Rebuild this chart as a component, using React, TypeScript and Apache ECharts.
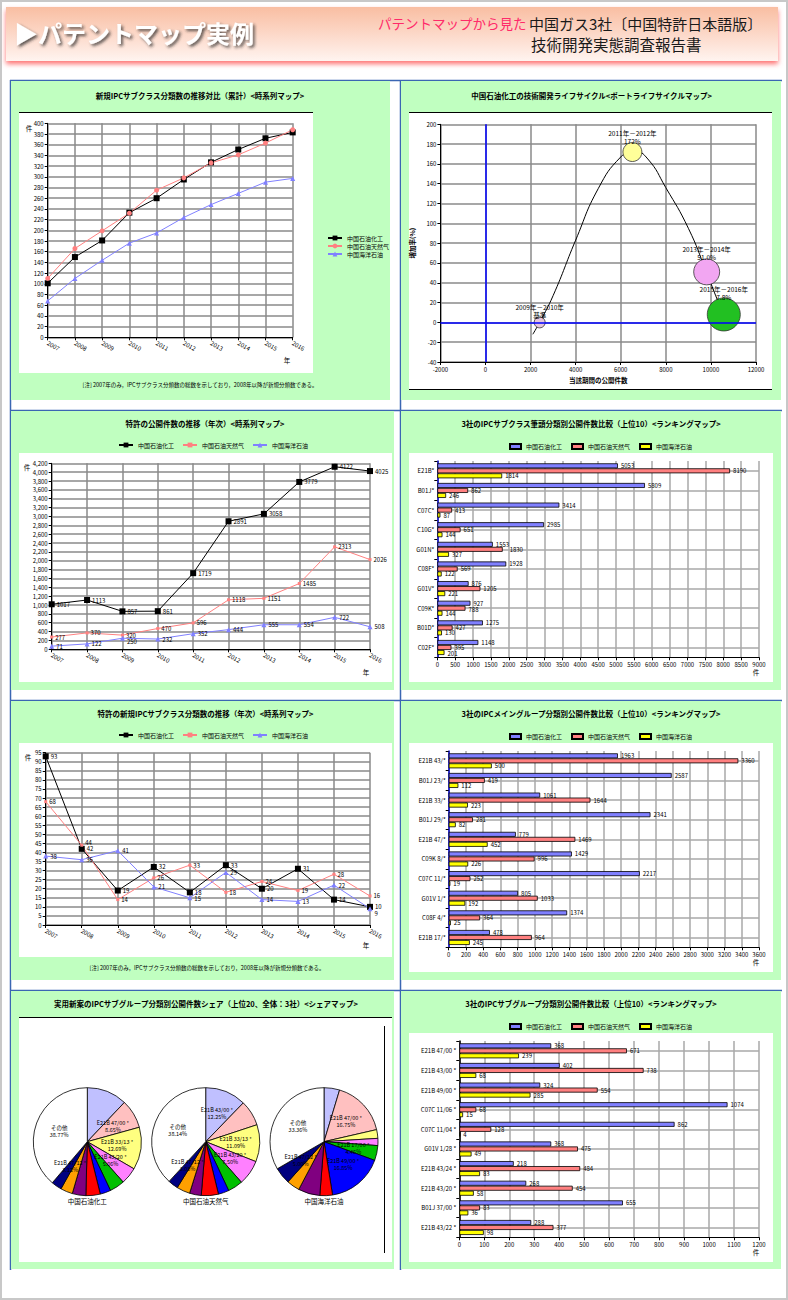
import React, { useEffect, useRef } from 'react';
import * as echarts from 'echarts';

const FONT = "'Noto Sans CJK JP', 'Noto Sans', sans-serif";
const GREEN = '#c0ffc0';
const BLUE_RULE = '#3b66b3';
const GRID_GREY = '#8a8a8a';
const BAR_GRID = '#a8a8a8';
const C_BLACK = '#000000';
const C_PINK = '#ff8080';
const C_BLUE = '#8080ff';
const C_YELLOW = '#ffff00';

// ---------- header texts ----------
const HEADER_TITLE = '▶パテントマップ実例';
const HEADER_PINK = 'パテントマップから見た';
const HEADER_LINE1 = '中国ガス3社〔中国特許日本語版〕';
const HEADER_LINE2 = '技術開発実態調査報告書';

// ---------- common ----------
const COMPANIES = ['中国石油化工', '中国石油天然气', '中国海洋石油'];
const YEARS = ['2007', '2008', '2009', '2010', '2011', '2012', '2013', '2014', '2015', '2016'];
const PANEL_TITLES = [
  '新規IPCサブクラス分類数の推移対比（累計）<時系列マップ>',
  '中国石油化工の技術開発ライフサイクル<ポートライフサイクルマップ>',
  '特許の公開件数の推移（年次）<時系列マップ>',
  '3社のIPCサブクラス筆頭分類別公開件数比較（上位10）<ランキングマップ>',
  '特許の新規IPCサブクラス分類数の推移（年次）<時系列マップ>',
  '3社のIPCメイングループ分類別公開件数比較（上位10）<ランキングマップ>',
  '実用新案のIPCサブグループ分類別公開件数シェア（上位20、全体：3社）<シェアマップ>',
  '3社のIPCサブグループ分類別公開件数比較（上位10）<ランキングマップ>',
];
const NOTE = '[注] 2007年のみ，IPCサブクラス分類数の総数を示しており，2008年以降が新規分類数である。';
const UNIT_COUNT = '件';
const UNIT_YEAR = '年';

// ---------- panel 1: cumulative new subclasses ----------
const cumSinopec = [101, 150, 181, 233, 260, 295, 327, 351, 372, 383];
const cumCnpc = [110, 166, 199, 232, 275, 298, 326, 341, 363, 388];
const cumCnooc = [68, 110, 144, 176, 195, 224, 248, 269, 290, 297];

// ---------- panel 2: life cycle ----------
const lifecyclePeriods = ['2009年－2010年', '2011年－2012年', '2013年－2014年', '2015年－2016年'];
const lifecycleCount = [2404, 6517, 9812, 10571];
const lifecycleGrowth = [0, 172, 51, 8];
const lifecycleRateLabels = ['基準', '172%', '51.0%', '7.8%'];
const lifecycleCurveX = [2100, 2400, 3000, 4000, 5000, 6000, 6600, 7200, 8000, 9000, 9800, 10300, 10570];
const lifecycleCurveY = [-12, 0, 27, 83, 135, 167, 173, 165, 136, 95, 51, 22, 8];
const LIFECYCLE_AXIS_X = '当該期間の公開件数';
const LIFECYCLE_AXIS_Y = '増加率(%)';

// ---------- panel 3: annual publications ----------
const pubSinopec = [1017, 1113, 857, 861, 1719, 2891, 3058, 3779, 4122, 4025];
const pubCnpc = [277, 370, 320, 470, 596, 1118, 1151, 1485, 2313, 2026];
const pubCnooc = [71, 122, 250, 232, 352, 444, 555, 554, 722, 508];

// ---------- panel 4: subclass ranking ----------
const subclassCats = ['E21B*', 'B01J*', 'C07C*', 'C10G*', 'G01N*', 'C08F*', 'G01V*', 'C09K*', 'B01D*', 'C02F*'];
const subclassSinopec = [5053, 5809, 3414, 2985, 1553, 1928, 876, 927, 1275, 1148];
const subclassCnpc = [8190, 862, 413, 651, 1830, 569, 1205, 788, 427, 395];
const subclassCnooc = [1814, 246, 87, 144, 327, 122, 221, 144, 130, 201];

// ---------- panel 5: annual new subclasses ----------
const newSinopec = [93, 42, 19, 32, 18, 33, 20, 31, 14, 10];
const newCnpc = [68, 44, 14, 26, 33, 18, 24, 19, 28, 16];
const newCnooc = [38, 36, 41, 21, 15, 29, 14, 13, 22, 9];

// ---------- panel 6: main group ranking ----------
const groupCats = ['E21B 43/*', 'B01J 23/*', 'E21B 33/*', 'B01J 29/*', 'E21B 47/*', 'C09K 8/*', 'C07C 11/*', 'G01V 1/*', 'C08F 4/*', 'E21B 17/*'];
const groupSinopec = [1963, 2587, 1061, 2341, 779, 1429, 2217, 805, 1374, 478];
const groupCnpc = [3360, 419, 1644, 281, 1469, 996, 252, 1033, 364, 964];
const groupCnooc = [500, 112, 223, 82, 452, 226, 19, 192, 25, 245];

// ---------- panel 7: utility-model share pies ----------
const pieNames = ['E21B 43/00 *', 'E21B 47/00 *', 'E21B 33/13 *', 'E21B 43/20 *', 'E21B 17/00 *', 'E21B 49/00 *', 'E21B 43/24 *', 'E21B 43/22 *', 'C09K 8/60 *', 'E21B 47/12 *', 'その他'];
const pieSinopec = [12.04, 8.65, 12.69, 5.06, 4.5, 3.2, 4.29, 4.06, 3.62, 3.12, 38.77];
const pieCnpc = [12.25, 7.67, 11.09, 7.5, 4.5, 3.2, 5.12, 3.5, 4.0, 3.03, 38.14];
const pieCnooc = [4.66, 16.75, 2.6, 2.15, 4.46, 16.85, 3.78, 6.5, 3.9, 5.0, 33.36];
const PIE_COLORS = ['#c0c0ff', '#ffc0c0', '#ffff80', '#ff80ff', '#00c000', '#0000ff', '#ff0000', '#800080', '#ffa000', '#000080', '#ffffff'];

// ---------- panel 8: subgroup ranking ----------
const subgroupCats = ['E21B 47/00 *', 'E21B 43/00 *', 'E21B 49/00 *', 'C07C 11/06 *', 'C07C 11/04 *', 'G01V 1/28 *', 'E21B 43/24 *', 'E21B 43/20 *', 'B01J 37/00 *', 'E21B 43/22 *'];
const subgroupSinopec = [368, 402, 324, 1074, 862, 368, 218, 268, 655, 288];
const subgroupCnpc = [671, 738, 554, 68, 128, 475, 484, 454, 83, 377];
const subgroupCnooc = [239, 68, 285, 15, 4, 49, 83, 58, 36, 98];

// ---------- helpers ----------
const T = (x: number, y: number, text: string, size = 6.5, extra: any = {}) => ({
  type: 'text', x, y, silent: true, z: 10,
  style: { text, fontSize: size, fontFamily: FONT, fill: '#000', align: 'center', verticalAlign: 'middle', ...extra },
});
const TITLE = (x: number, y: number, i: number) => T(x, y, PANEL_TITLES[i], 7.5, { fontWeight: 'bold' });

const box = (x: number, y: number, w: number, h: number, top = false, bottom = false) => {
  const els: any[] = [{ type: 'rect', shape: { x, y, width: w, height: h }, style: { fill: '#ffffff' }, z: -100, silent: true }];
  if (top) els.push({ type: 'line', shape: { x1: x, y1: y + 0.5, x2: x + w, y2: y + 0.5 }, style: { stroke: '#000', lineWidth: 1 }, z: -99, silent: true });
  if (bottom) els.push({ type: 'line', shape: { x1: x, y1: y + h - 0.5, x2: x + w, y2: y + h - 0.5 }, style: { stroke: '#000', lineWidth: 1 }, z: -99, silent: true });
  return els;
};

const plain = (v: number) => String(v);
const thousands = (v: number) => v.toLocaleString('en-US');

// Nudges a data label (right when the clash is slight, otherwise up/down)
// when it collides with a label already placed in the same chart.
const makeAvoider = () => {
  const placed = new Map<string, { x: number; y: number; width: number; height: number }>();
  return (params: any) => {
    const key = params.seriesIndex + '-' + params.dataIndex;
    const r = params.labelRect;
    if (!r) return {};
    let dx = 0;
    let dy = 0;
    for (let iter = 0; iter < 6; iter++) {
      let moved = false;
      placed.forEach((p, k) => {
        if (k === key || moved) return;
        const rx = r.x + dx;
        const ry = r.y + dy;
        if (rx < p.x + p.width && rx + r.width > p.x && ry < p.y + p.height && ry + r.height > p.y) {
          const overlapX = Math.min(rx + r.width, p.x + p.width) - Math.max(rx, p.x);
          if (rx >= p.x && overlapX <= 6) {
            dx += overlapX + 0.5;
          } else {
            const up = p.y - (ry + r.height);
            const down = p.y + p.height - ry;
            dy += Math.abs(up) < down ? up - 0.5 : down + 0.5;
          }
          moved = true;
        }
      });
      if (!moved) break;
    }
    placed.set(key, { x: r.x + dx, y: r.y + dy, width: r.width, height: r.height });
    return { dx, dy };
  };
};

const yearAxis = () => ({
  type: 'category', data: YEARS, boundaryGap: false,
  axisLine: { lineStyle: { color: '#000', width: 1 } },
  axisTick: { show: true, length: 3, lineStyle: { color: '#000' } },
  axisLabel: { interval: 0, rotate: -30, fontSize: 6, color: '#000', margin: 5, fontFamily: FONT },
  splitLine: { show: true, lineStyle: { color: GRID_GREY, width: 1.5 } },
});

const valueAxis = (min: number, max: number, interval: number, fmt: any = plain) => ({
  type: 'value', min, max, interval,
  axisLine: { show: true, onZero: false, lineStyle: { color: '#000', width: 1 } },
  axisTick: { show: true, length: 3, lineStyle: { color: '#000' } },
  axisLabel: { fontSize: 6, color: '#000', margin: 4, fontFamily: FONT, formatter: fmt },
  splitLine: { show: true, lineStyle: { color: GRID_GREY, width: 1.5 } },
});

const lineS = (name: string, data: number[], color: string, symbol: string, size: number, avoider: any) => {
  const s: any = {
    type: 'line', name, data, symbol, symbolSize: size, showSymbol: true,
    itemStyle: { color }, lineStyle: { color, width: 1 },
    label: { show: !!avoider, position: 'right', distance: 2, fontSize: 6, color: '#000', fontFamily: FONT },
    emphasis: { disabled: true },
  };
  if (avoider) s.labelLayout = avoider;
  return s;
};

const barS = (name: string, data: number[], color: string, avoider: any) => ({
  type: 'bar', name, data, barWidth: 5, barGap: '0%',
  itemStyle: { color, borderColor: '#000', borderWidth: 0.8 },
  label: { show: true, position: 'right', distance: 3, fontSize: 6, color: '#000', fontFamily: FONT },
  labelLayout: avoider,
  emphasis: { disabled: true },
});

const rankingOption = (titleIdx: number, cats: string[], a: number[], b: number[], c: number[], max: number, interval: number, gridLeft: number, axisColor: string) => {
  const av = makeAvoider();
  return {
    animation: false,
    textStyle: { fontFamily: FONT },
    graphic: [...box(8, 42, 364, 229), TITLE(190, 12, titleIdx), T(355, 261, UNIT_COUNT, 6.5)],
    legend: { left: 103, top: 27, itemWidth: 11, itemHeight: 5, itemGap: 9, icon: 'rect', textStyle: { fontSize: 6, color: '#000', fontFamily: FONT }, data: COMPANIES },
    grid: { left: gridLeft, top: 50, width: 358 - gridLeft, height: 196.3 },
    xAxis: {
      type: 'value', min: 0, max, interval,
      axisLine: { show: true, lineStyle: { color: '#000' } },
      axisTick: { show: true, length: 3, lineStyle: { color: '#000' } },
      axisLabel: { fontSize: 6, color: '#000', margin: 4, fontFamily: FONT, formatter: plain },
      splitLine: { show: true, lineStyle: { color: BAR_GRID, width: 1.5 } },
    },
    yAxis: {
      type: 'category', data: cats, inverse: true,
      axisLine: { show: true, lineStyle: { color: axisColor, width: 1.5 } },
      axisTick: { show: true, length: 3, lineStyle: { color: '#000' } },
      axisLabel: { fontSize: 6, color: '#000', margin: 3, interval: 0, fontFamily: FONT },
      splitLine: { show: true, alignWithLabel: true, lineStyle: { color: BAR_GRID, width: 1.5 } },
    },
    series: [barS(COMPANIES[0], a, C_BLUE, av), barS(COMPANIES[1], b, C_PINK, av), barS(COMPANIES[2], c, C_YELLOW, av)],
  };
};

const BUBBLE_COLORS = ['#e6c6dc', '#ffff99', '#f2a6f2', '#22c022'];
const BUBBLE_SIZES = [11, 19, 26, 33];

const pieSeries = (values: number[], cx: number) => ({
  type: 'pie', center: [cx, 150.7], radius: 54, startAngle: 90, clockwise: true,
  avoidLabelOverlap: false, silent: true,
  data: pieNames.map((n, i) => ({ name: n, value: values[i], itemStyle: { color: PIE_COLORS[i] } })),
  itemStyle: { borderColor: '#000', borderWidth: 0.8 },
  label: {
    show: true, position: 'inside', fontSize: 5.5, lineHeight: 7, color: '#000', fontFamily: FONT,
    formatter: (p: any) => `${p.name}\n${Number(p.value).toFixed(2)}%`,
  },
  labelLine: { show: false },
  emphasis: { disabled: true },
});

function buildPanels() {
  const p1 = {
    animation: false,
    textStyle: { fontFamily: FONT },
    graphic: [
      ...box(8, 31, 294, 261, true, false),
      TITLE(189, 14, 0),
      T(18, 47, UNIT_COUNT, 6.5),
      T(276, 279, UNIT_YEAR, 6.5),
      T(189, 304, NOTE, 5.5),
    ],
    legend: { orient: 'vertical', left: 311, top: 149, itemWidth: 14, itemHeight: 6, itemGap: 2, textStyle: { fontSize: 6, color: '#000', fontFamily: FONT }, data: COMPANIES },
    grid: { left: 36.7, top: 42.3, width: 245, height: 214 },
    xAxis: yearAxis(),
    yAxis: valueAxis(0, 400, 20),
    series: [
      lineS(COMPANIES[0], cumSinopec, C_BLACK, 'rect', 6, null),
      lineS(COMPANIES[1], cumCnpc, C_PINK, 'circle', 5, null),
      lineS(COMPANIES[2], cumCnooc, C_BLUE, 'triangle', 5, null),
    ],
  };

  const p2 = {
    animation: false,
    textStyle: { fontFamily: FONT },
    graphic: [...box(8, 31, 363, 278, true, true), TITLE(190.5, 14, 1)],
    grid: { left: 35, top: 43.3, width: 320, height: 237.7 },
    xAxis: {
      ...valueAxis(-2000, 12000, 2000),
      name: LIFECYCLE_AXIS_X, nameLocation: 'middle', nameGap: 12,
      nameTextStyle: { fontSize: 6.5, color: '#000', fontWeight: 'bold', fontFamily: FONT },
    },
    yAxis: {
      ...valueAxis(-40, 200, 20),
      name: LIFECYCLE_AXIS_Y, nameLocation: 'middle', nameGap: 14, nameRotate: 90,
      nameTextStyle: { fontSize: 6.5, color: '#000', fontWeight: 'bold', fontFamily: FONT },
    },
    series: [
      {
        type: 'line', smooth: true, symbol: 'none', silent: true,
        data: lifecycleCurveX.map((x, i) => [x, lifecycleCurveY[i]]),
        lineStyle: { color: '#000', width: 1 },
        markLine: {
          silent: true, symbol: 'none', label: { show: false },
          lineStyle: { color: '#0000ff', width: 1.5, type: 'solid' },
          data: [{ xAxis: 0 }, { yAxis: 0 }],
        },
        z: 2,
      },
      {
        type: 'scatter',
        data: lifecycleCount.map((x, i) => [x, lifecycleGrowth[i]]),
        symbolSize: (_v: any, p: any) => BUBBLE_SIZES[p.dataIndex],
        itemStyle: { color: (p: any) => BUBBLE_COLORS[p.dataIndex], borderColor: '#333', borderWidth: 0.8, opacity: 1 },
        label: {
          show: true, position: 'top', distance: -3, fontSize: 6.5, lineHeight: 8, color: '#000', fontFamily: FONT,
          formatter: (p: any) => `${lifecyclePeriods[p.dataIndex]}\n${lifecycleRateLabels[p.dataIndex]}`,
        },
        emphasis: { disabled: true },
        z: 3,
      },
    ],
  };

  const av3 = makeAvoider();
  const p3 = {
    animation: false,
    textStyle: { fontFamily: FONT },
    graphic: [...box(8, 42, 373, 229), TITLE(194, 12, 2), T(16, 56, UNIT_COUNT, 6.5), T(355, 261, UNIT_YEAR, 6.5)],
    legend: { left: 102, top: 26, itemWidth: 14, itemHeight: 6, itemGap: 8, textStyle: { fontSize: 6, color: '#000', fontFamily: FONT }, data: COMPANIES },
    grid: { left: 40.7, top: 52.3, width: 318.3, height: 186 },
    xAxis: yearAxis(),
    yAxis: valueAxis(0, 4200, 200, thousands),
    series: [
      lineS(COMPANIES[0], pubSinopec, C_BLACK, 'rect', 6, av3),
      lineS(COMPANIES[1], pubCnpc, C_PINK, 'rect', 3, av3),
      lineS(COMPANIES[2], pubCnooc, C_BLUE, 'triangle', 5, av3),
    ],
  };

  const p4 = rankingOption(3, subclassCats, subclassSinopec, subclassCnpc, subclassCnooc, 9000, 500, 36.3, '#0000cc');

  const av5 = makeAvoider();
  const p5 = {
    animation: false,
    textStyle: { fontFamily: FONT },
    graphic: [...box(8, 42, 373, 214), TITLE(194.5, 12, 4), T(17, 56, UNIT_COUNT, 6.5), T(355, 244, UNIT_YEAR, 6.5), T(196, 267, NOTE, 5.5)],
    legend: { left: 102, top: 26, itemWidth: 14, itemHeight: 6, itemGap: 8, textStyle: { fontSize: 6, color: '#000', fontFamily: FONT }, data: COMPANIES },
    grid: { left: 34.7, top: 51.7, width: 324.3, height: 172.3 },
    xAxis: yearAxis(),
    yAxis: valueAxis(0, 95, 5),
    series: [
      lineS(COMPANIES[0], newSinopec, C_BLACK, 'rect', 6, av5),
      lineS(COMPANIES[1], newCnpc, C_PINK, 'rect', 3, av5),
      lineS(COMPANIES[2], newCnooc, C_BLUE, 'triangle', 5, av5),
    ],
  };

  const p6 = rankingOption(5, groupCats, groupSinopec, groupCnpc, groupCnooc, 3600, 200, 47.7, '#0000cc');

  const p7 = {
    animation: false,
    textStyle: { fontFamily: FONT },
    graphic: [
      ...box(8, 26, 373, 245, true, false),
      TITLE(195, 12, 6),
      { type: 'line', shape: { x1: 373.5, y1: 35, x2: 373.5, y2: 262 }, style: { stroke: '#000', lineWidth: 1 }, silent: true },
      T(76.3, 209.7, COMPANIES[0], 6.5),
      T(194.7, 209.7, COMPANIES[1], 6.5),
      T(313, 209.7, COMPANIES[2], 6.5),
    ],
    series: [pieSeries(pieSinopec, 76.3), pieSeries(pieCnpc, 194.7), pieSeries(pieCnooc, 313)],
  };

  const p8 = rankingOption(7, subgroupCats, subgroupSinopec, subgroupCnpc, subgroupCnooc, 1200, 100, 58.3, '#000000');

  return [p1, p2, p3, p4, p5, p6, p7, p8];
}

const PANEL_BOXES = [
  { x: 11, y: 81, w: 379, h: 319 },
  { x: 401, y: 81, w: 380, h: 319 },
  { x: 11, y: 411, w: 383, h: 279 },
  { x: 401, y: 411, w: 380, h: 279 },
  { x: 11, y: 701, w: 383, h: 279 },
  { x: 401, y: 701, w: 380, h: 279 },
  { x: 11, y: 991, w: 383, h: 278 },
  { x: 401, y: 991, w: 380, h: 278 },
];

const rule = (x1: number, y1: number, x2: number, y2: number) => ({
  type: 'line', silent: true, shape: { x1, y1, x2, y2 }, style: { stroke: BLUE_RULE, lineWidth: 1.5 },
});

const bgOption = () => ({
  animation: false,
  graphic: [
    { type: 'rect', silent: true, shape: { x: 1, y: 1, width: 786, height: 1298 }, style: { fill: '#fff', stroke: '#c8c8c8', lineWidth: 2 } },
    {
      type: 'rect', silent: true, shape: { x: 6, y: 7, width: 772, height: 54 },
      style: {
        fill: new echarts.graphic.LinearGradient(0, 0, 0, 1, [
          { offset: 0, color: '#f9bea2' },
          { offset: 0.5, color: '#fcd8c8' },
          { offset: 1, color: '#fff4f0' },
        ]),
        shadowBlur: 5, shadowColor: 'rgba(255,90,90,0.85)', shadowOffsetY: 3,
      },
    },
    T(14, 32, HEADER_TITLE, 24, { align: 'left', fill: '#ffffff', fontWeight: 'bold', textShadowColor: 'rgba(40,40,40,0.75)', textShadowBlur: 3, textShadowOffsetX: 2, textShadowOffsetY: 2 }),
    T(378, 23, HEADER_PINK, 13.5, { align: 'left', fill: '#ff2a6a' }),
    T(529, 23, HEADER_LINE1, 15, { align: 'left', fill: '#1a1a1a' }),
    T(531, 44, HEADER_LINE2, 15.5, { align: 'left', fill: '#1a1a1a' }),
    rule(10.5, 80, 10.5, 1270),
    rule(400.5, 80, 400.5, 1270),
    rule(10, 80.5, 782, 80.5),
    rule(10, 410.5, 782, 410.5),
    rule(10, 700.5, 782, 700.5),
    rule(10, 990.5, 782, 990.5),
  ],
});

export default function App() {
  const bgRef = useRef<HTMLDivElement | null>(null);
  const refs = useRef<(HTMLDivElement | null)[]>([]);

  useEffect(() => {
    const charts: echarts.ECharts[] = [];
    if (bgRef.current) {
      const c = echarts.init(bgRef.current, null, { renderer: 'svg' });
      c.setOption(bgOption() as any);
      charts.push(c);
    }
    const options = buildPanels();
    options.forEach((opt, i) => {
      const el = refs.current[i];
      if (!el) return;
      const c = echarts.init(el, null, { renderer: 'svg' });
      c.setOption(opt as any);
      charts.push(c);
    });
    return () => {
      charts.forEach((c) => c.dispose());
    };
  }, []);

  return (
    <div style={{ position: 'absolute', left: 0, top: 0, width: 788, height: 1300, background: '#fff' }}>
      <div ref={bgRef} style={{ position: 'absolute', left: 0, top: 0, width: 788, height: 1300 }} />
      {PANEL_BOXES.map((p, i) => (
        <div
          key={i}
          ref={(el) => {
            refs.current[i] = el;
          }}
          style={{ position: 'absolute', left: p.x, top: p.y, width: p.w, height: p.h, background: GREEN }}
        />
      ))}
    </div>
  );
}
